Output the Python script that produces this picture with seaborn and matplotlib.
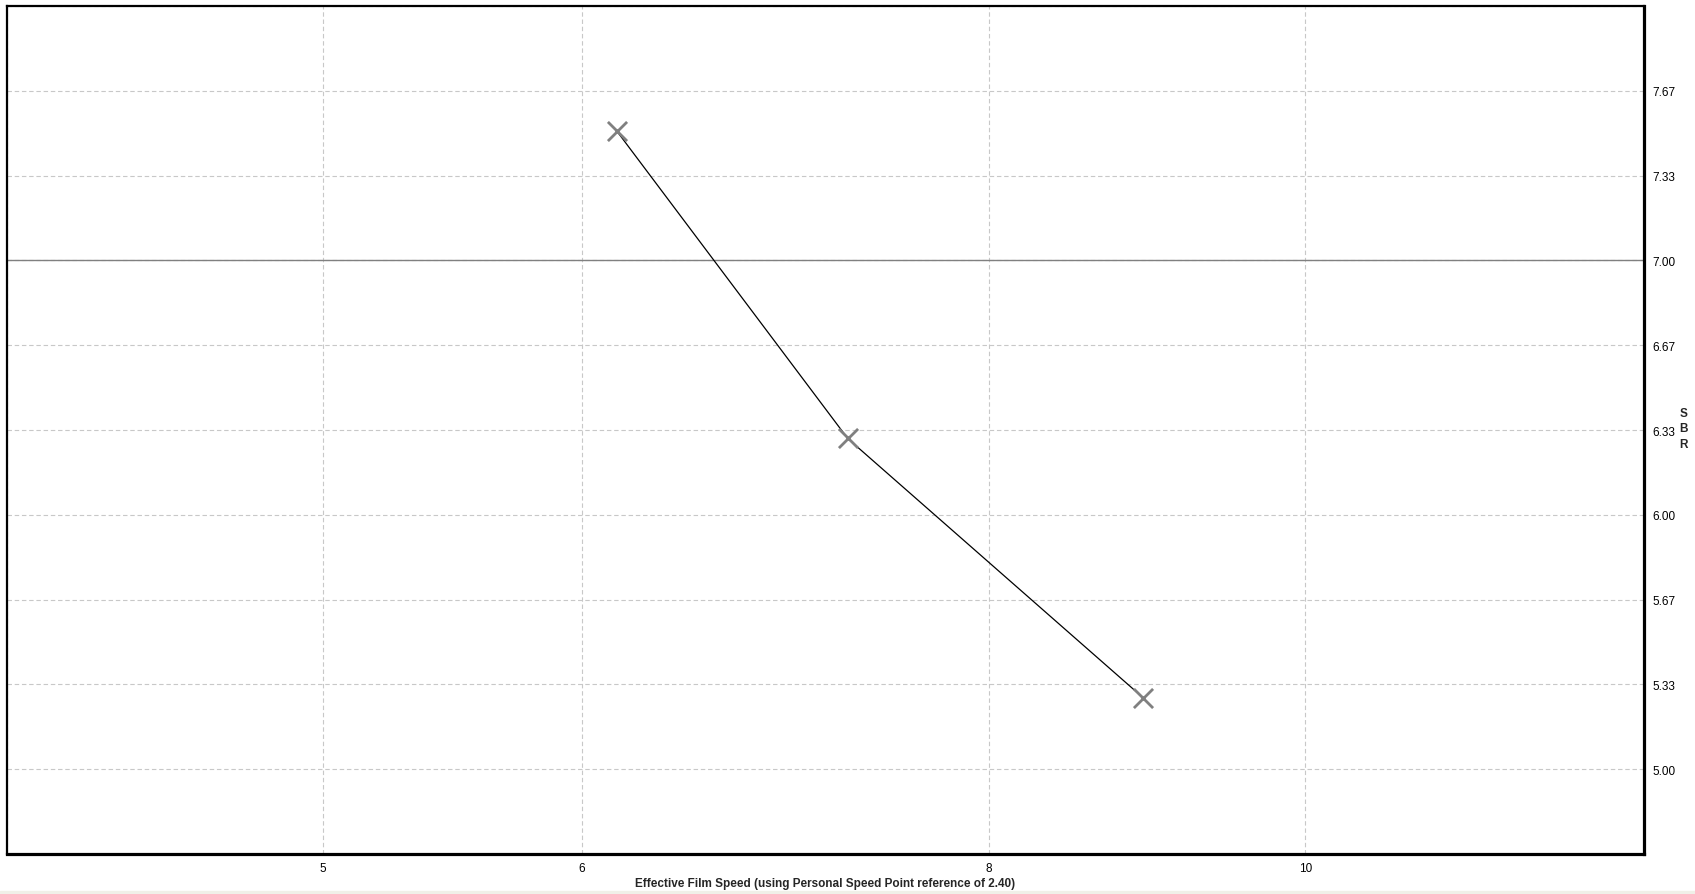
import matplotlib
matplotlib.use("Agg")
import matplotlib.pyplot as plt
import matplotlib.ticker as mticker
import seaborn as sns
import pandas as pd
import numpy as np

# Data
film_speed = [6.15, 7.24, 8.92]
sbr = [7.51, 6.30, 5.28]
x_ticks = [4, 5, 6, 8, 10]
x_tick_labels = ["", "5", "6", "8", "10"]
y_ticks = [4.6667, 5.0, 5.3333, 5.6667, 6.0, 6.3333, 6.6667, 7.0, 7.3333, 7.6667, 8.0]
y_tick_labels = ["", "5.00", "5.33", "5.67", "6.00", "6.33", "6.67", "7.00", "7.33", "7.67", ""]
reference_sbr = 7.0
x_label = "Effective Film Speed (using Personal Speed Point reference of 2.40)"
y_label = "S\nB\nR"

df = pd.DataFrame({"speed": film_speed, "sbr": sbr})

sns.set_style("white")
plt.rcParams["font.family"] = ["Liberation Sans", "DejaVu Sans"]

fig = plt.figure(figsize=(16.95, 8.95), dpi=100)
fig.patch.set_facecolor("white")
ax = fig.add_axes([7 / 1695, 1 - 855 / 895, (1644 - 7) / 1695, (855 - 7) / 895])

ax.set_xscale("log")
ax.set_xlim(4.0, 12.7)
ax.set_ylim(4.6667, 8.0)

# grid
ax.set_xticks(x_ticks)
ax.set_xticklabels(x_tick_labels)
ax.xaxis.set_minor_locator(mticker.NullLocator())
ax.set_yticks(y_ticks)
ax.set_yticklabels(y_tick_labels)
ax.grid(True, color="#c8c8c8", linestyle=(0, (4, 2.5)), linewidth=0.8)
ax.set_axisbelow(True)

ax.axhline(reference_sbr, color="#808080", linewidth=1.0, zorder=2)

sns.lineplot(data=df, x="speed", y="sbr", ax=ax, color="black", linewidth=0.9,
             zorder=3, legend=False)
sns.scatterplot(data=df, x="speed", y="sbr", ax=ax, marker="x", s=190,
                color="#808080", linewidth=2.0, zorder=4, legend=False)

ax.yaxis.tick_right()
ax.yaxis.set_label_position("right")
ax.tick_params(axis="both", length=0, labelsize=8.5, colors="black")
ax.tick_params(axis="y", pad=6)
ax.tick_params(axis="x", pad=6)

ax.set_xlabel(x_label, fontsize=8.5, fontweight="bold")
ax.xaxis.set_label_coords(0.5, -0.034)
ax.xaxis.label.set_va("center")
ax.set_ylabel(y_label, fontsize=8.5, fontweight="bold", rotation=0,
              va="center", ha="left", linespacing=1.4)
ax.yaxis.set_label_coords(1.0215, 0.502)

for side in ["left", "top"]:
    ax.spines[side].set_linewidth(1.6)
    ax.spines[side].set_color("black")
for side in ["right", "bottom"]:
    ax.spines[side].set_linewidth(2.3)
    ax.spines[side].set_color("black")

# light strip at bottom of the figure
fig.patches.append(plt.Rectangle((0, 0), 1, 3 / 895, transform=fig.transFigure,
                                 color="#f0f0e8", zorder=0))

fig.savefig("out.png", dpi=100, facecolor="white")
